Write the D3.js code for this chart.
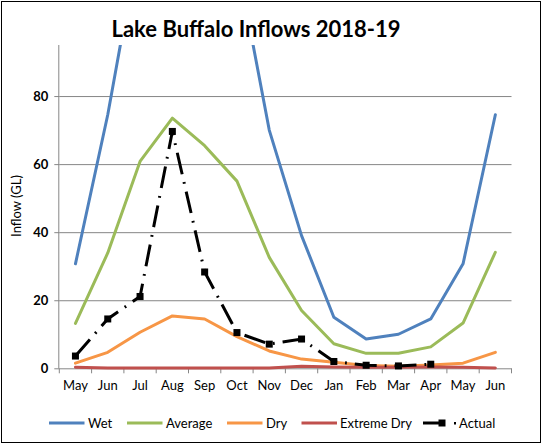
<!DOCTYPE html>
<html><head><meta charset="utf-8">
<script src="https://cdn.jsdelivr.net/npm/d3@7"></script>
<style>body{margin:0;background:#fff}svg{display:block}</style>
</head><body>
<svg id="c" width="544" height="447"></svg>
<script>
const months = ["May","Jun","Jul","Aug","Sep","Oct","Nov","Dec","Jan","Feb","Mar","Apr","May","Jun"];
const wet = [30.7,74.5,127,158,141,120,70,39,15,8.6,10,14.5,30.7,74.5];
const average = [13.2,33.9,60.8,73.5,65.4,55.0,32.6,17.0,7.2,4.4,4.4,6.3,13.3,34.1];
const dry = [1.5,4.7,10.6,15.4,14.5,9.3,5.1,2.7,1.8,0.8,0.6,1.0,1.5,4.7];
const extremeDry = [0.3,0.1,0.1,0.1,0.1,0.1,0.1,0.6,0.4,0.3,0.3,0.4,0.3,0.1];
const actual = [3.6,14.5,21.1,69.6,28.3,10.5,7.1,8.6,2.0,0.9,0.7,1.2,null,null];
const yTicks = [0,20,40,60,80];
const seriesNames = ["Wet","Average","Dry","Extreme Dry","Actual"];

const FONT = "Lato, 'Open Sans', sans-serif";
const svg = d3.select("#c");
const L = 59.3, R = 511.5, T = 45, B = 368.3;
const idx = months.map((m,i)=>i);
const x = d3.scaleBand().domain(idx).range([L,R]).padding(0);
const cx = i => x(i) + x.bandwidth()/2;
const y = d3.scaleLinear().domain([0,95]).range([B,T]);

// border
svg.append("rect").attr("x",1.5).attr("y",1.5).attr("width",539).attr("height",441)
  .attr("fill","#fff").attr("stroke","#000").attr("stroke-width",1);

// title
svg.append("text").attr("x",256).attr("y",36.5).attr("text-anchor","middle")
  .attr("font-family",FONT).attr("font-weight","bold").attr("font-size",22)
  .text("Lake Buffalo Inflows 2018-19");

// gridlines
svg.append("g").selectAll("line").data(yTicks.filter(d=>d>0)).join("line")
  .attr("x1",L).attr("x2",R).attr("y1",d=>y(d)+0.5).attr("y2",d=>y(d)+0.5)
  .attr("stroke","#868686").attr("stroke-width",1);

// y axis
const yAxis = svg.append("g").attr("transform",`translate(${L},0)`)
  .call(d3.axisLeft(y).tickValues(yTicks).tickSize(5).tickPadding(6));
yAxis.select(".domain").attr("stroke","#868686").attr("d",`M-0.5,${T}V${B}`);
yAxis.selectAll(".tick line").attr("stroke","#868686");
yAxis.selectAll(".tick text").attr("font-family",FONT).attr("font-weight","bold")
  .attr("font-size",13).attr("fill","#000");

// x axis
const xAxis = svg.append("g").attr("transform",`translate(0,${B})`)
  .call(d3.axisBottom(x).tickFormat(i=>months[i]).tickSize(0).tickPadding(12));
xAxis.select(".domain").attr("stroke","#868686").attr("d",`M${L},0.5H${R}`);
xAxis.selectAll(".tick text").attr("font-family",FONT).attr("font-size",13).attr("fill","#000");
// boundary ticks
svg.append("g").selectAll("line").data(d3.range(months.length+1)).join("line")
  .attr("x1",i=>L+i*x.step()).attr("x2",i=>L+i*x.step())
  .attr("y1",B).attr("y2",B+5).attr("stroke","#868686");

// y title
svg.append("text").attr("transform","translate(21,206) rotate(-90)")
  .attr("text-anchor","middle").attr("font-family",FONT).attr("font-size",13)
  .text("Inflow (GL)");

// clip
svg.append("clipPath").attr("id","clip").append("rect")
  .attr("x",L).attr("y",T).attr("width",R-L).attr("height",B-T+3);

const line = d3.line().defined(d=>d[1]!=null).x(d=>cx(d[0])).y(d=>y(d[1]));
const series = [
  {name:"Wet", data:wet, color:"#4F81BD"},
  {name:"Average", data:average, color:"#9BBB59"},
  {name:"Dry", data:dry, color:"#F79646"},
  {name:"Extreme Dry", data:extremeDry, color:"#C0504D"},
];
const g = svg.append("g").attr("clip-path","url(#clip)");
series.forEach(s=>{
  g.append("path").datum(s.data.map((v,i)=>[i,v])).attr("d",line)
    .attr("fill","none").attr("stroke",s.color).attr("stroke-width",3)
    .attr("stroke-linejoin","round").attr("stroke-linecap","round");
});
const DASH = "22,8,1.8,8";
g.append("path").datum(actual.map((v,i)=>[i,v])).attr("d",line)
  .attr("fill","none").attr("stroke","#000").attr("stroke-width",3)
  .attr("stroke-dasharray",DASH);
g.selectAll("rect.m").data(actual.map((v,i)=>[i,v]).filter(d=>d[1]!=null)).join("rect")
  .attr("class","m").attr("x",d=>cx(d[0])-3.5).attr("y",d=>y(d[1])-3.5)
  .attr("width",7).attr("height",7).attr("fill","#000");

// legend
const LY = 423;
const legendItems = [
  {name:seriesNames[0], color:"#4F81BD", x1:49, x2:84.5, tx:88},
  {name:seriesNames[1], color:"#9BBB59", x1:127, x2:162.5, tx:166},
  {name:seriesNames[2], color:"#F79646", x1:227, x2:262.5, tx:266},
  {name:seriesNames[3], color:"#C0504D", x1:301.5, x2:337, tx:340},
];
const lg = svg.append("g");
legendItems.forEach(it=>{
  lg.append("line").attr("x1",it.x1).attr("x2",it.x2).attr("y1",LY).attr("y2",LY)
    .attr("stroke",it.color).attr("stroke-width",3);
  lg.append("text").attr("x",it.tx).attr("y",LY+4.5).attr("font-family",FONT)
    .attr("font-size",13).text(it.name);
});
lg.append("line").attr("x1",423).attr("x2",445).attr("y1",LY).attr("y2",LY)
  .attr("stroke","#000").attr("stroke-width",3);
lg.append("rect").attr("x",438.5).attr("y",LY-3.5).attr("width",7).attr("height",7).attr("fill","#000");
lg.append("rect").attr("x",454).attr("y",LY-1).attr("width",2).attr("height",2.5).attr("fill","#000");
lg.append("text").attr("x",459).attr("y",LY+4.5).attr("font-family",FONT)
  .attr("font-size",13).text(seriesNames[4]);
</script>
</body></html>
